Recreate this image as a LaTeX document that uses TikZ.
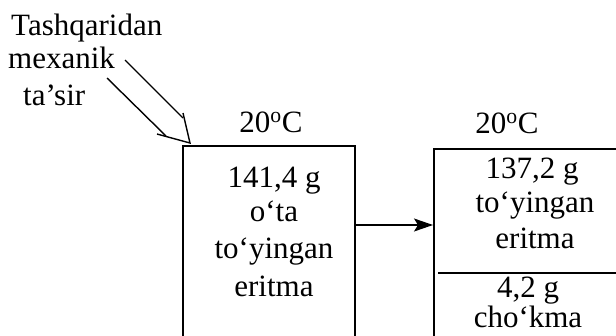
\documentclass[tikz,border=0pt]{standalone}
\usepackage{fontspec}
\setmainfont{Liberation Serif}
\usetikzlibrary{arrows.meta}
\begin{document}
\begin{tikzpicture}[x=1pt,y=-1pt,
  txt/.style={font=\fontsize{31}{37}\selectfont, inner sep=0pt, anchor=base},
  txtl/.style={txt, anchor=base west},
  box/.style={draw, line width=1.6pt, rectangle, inner sep=0pt, anchor=north west},
  ln/.style={line width=1.4pt},
  ar/.style={line width=1.4pt, -{Stealth[length=19pt,width=13pt,inset=4pt]}}]
\useasboundingbox (0,0) rectangle (616,335);
\clip (0,0) rectangle (616,335);
\fill[white] (0,0) rectangle (616,335);
% boxes (extend beyond the bottom and right edges)
\node[box, minimum width=172pt, minimum height=210pt] (b1) at (182,145) {};
\node[box, minimum width=260pt, minimum height=210pt] (b2) at (433,148) {};
\coordinate (dl) at (438,273);
\draw[ln] (dl) -- (dl -| b2.east);
% temperature labels
\node[txt] (t1) at (271,132) {20\textsuperscript{o}C};
\node[txt] (t2) at (507,133) {20\textsuperscript{o}C};
% box 1 text
\node[txt] (a1) at (274,187) {141,4 g};
\node[txt] (a2) at (274,221) {o‘ta};
\node[txt] (a3) at (274,258) {to‘yingan};
\node[txt] (a4) at (274,296) {eritma};
% box 2 text
\node[txt] (c1) at (532,178) {137,2 g};
\node[txt] (c2) at (535,212) {to‘yingan};
\node[txt] (c3) at (535,248) {eritma};
\node[txt] (c4) at (528,297) {4,2 g};
\node[txt] (c5) at (528,327) {cho‘kma};
% top-left label
\node[txtl] (l1) at (11,35) {Tashqaridan};
\node[txtl] (l2) at (8,68) {mexanik};
\node[txtl] (l3) at (23,105) {ta’sir};
% main arrow
\coordinate (ay) at (0,225);
\draw[ar] (b1.east |- ay) -- (b2.west |- ay);
% double-line open arrow from label
\coordinate (sa0) at (125,60);
\coordinate (sa1) at (183,118);
\coordinate (sb0) at (107,78);
\coordinate (sb1) at (166,136);
\coordinate (ba) at (183,113);
\coordinate (bb) at (157,134);
\coordinate (tip) at (190,143);
\draw[ln] (sa0) -- (sa1);
\draw[ln] (sb0) -- (sb1);
\draw[ln, line join=miter] (ba) -- (tip) -- (bb);
\end{tikzpicture}
\end{document}
